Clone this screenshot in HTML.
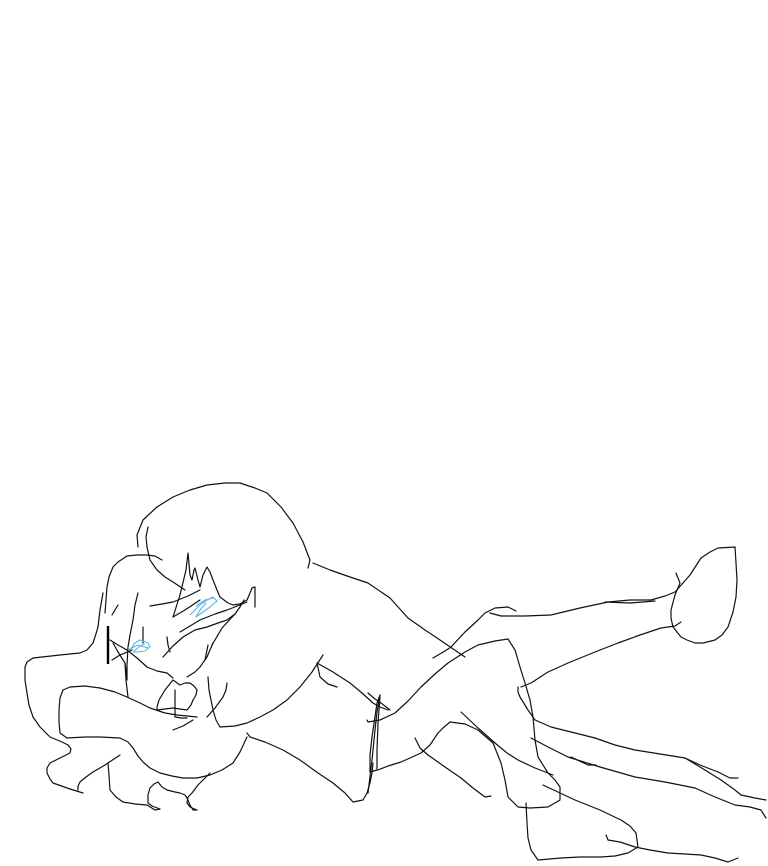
<!DOCTYPE html>
<html><head><meta charset="utf-8"><style>html,body{margin:0;padding:0;background:#fff}svg{display:block}</style></head><body>
<svg width="768" height="866" viewBox="0 0 768 866" xmlns="http://www.w3.org/2000/svg">
<g fill="none" stroke="#111" stroke-width="1.2" stroke-linejoin="round" stroke-linecap="round">
<polyline points="138,547 137,535 143,520 157,507 173,497 190,490 207,485 225,483 240,483 255,488 267,493 281,507 293,523 303,542 310,560 308,568"/>
<polyline points="313,563 330,570 350,577 368,583 390,598 408,618 425,630 440,640 465,657"/>
<polyline points="148,527 146,537 147,547 150,560 157,570 165,577 173,582 185,590"/>
<polyline points="162,560 155,556 147,555 137,555 127,556 118,562 113,567 109,577 107,587 106,600 105,613"/>
<polyline points="103,593 100,610 98,627 95,637 93,643 87,650 80,653 60,655 33,658 27,662 25,667 25,680 27,693 29,705 33,717 40,727 50,737 62,742 68,745 71,749 70,753 60,758 50,763 47,768 47,773 50,779 53,783 70,789 83,793"/>
<polyline points="78,790 78,786 80,782 86,777 93,772 105,765 120,755"/>
<polyline points="108,763 109,775 110,790 116,797 123,802 135,804 147,805 155,810 160,809"/>
<polyline points="160,809 152,806 148,803 148,795 150,788 154,784 158,782 162,787 167,790 175,792 180,793 185,795 187,798 190,805 193,810 197,810 190,807 187,803 188,797 192,793 198,785 203,780 210,773"/>
<polyline points="70,687 63,690 60,698 59,710 59,722 60,733 67,738 85,737 100,737 120,738 128,742 133,748 138,756 143,762 150,768 160,773 172,776 183,778 197,778 210,775 222,770 233,763 240,752 247,737"/>
<polyline points="70,687 85,686 100,688 115,692 127,697 140,703 150,708 165,713 177,715 197,717"/>
<polyline points="208,677 209,690 213,710 216,720 220,727 235,726 247,723 260,717 273,710 287,700 300,687 312,672 323,655"/>
<polyline points="247,733 250,737 265,742 283,750 300,760 318,773 333,783 345,793 353,802 363,800 367,793 370,783 372,773 373,763"/>
<polyline points="317,663 320,677 328,684 337,687"/>
<polyline points="317,663 333,672 350,683 362,693 373,703 380,707 388,710"/>
<polyline points="380,697 378,723 377,750 377,770 370,772 370,755 372,737 377,703 380,695"/>
<polyline points="367,720 368,722 380,720 395,713 408,701 421,687 435,674 448,663 465,652 478,645 495,641 508,639"/>
<polyline points="508,639 515,650 520,667 525,683 530,700 533,717 535,740 538,757 548,773 555,780 560,787 560,800 548,807 530,808 518,807 508,797 505,780 501,763 493,743 478,730 465,724 450,722 443,728 438,733 430,745 421,753 410,758 401,762 388,766 378,770"/>
<polyline points="433,658 445,651 451,647 465,632 478,620 485,613 495,608 508,607 516,611"/>
<polyline points="490,613 501,616 525,616 551,615 580,608 608,602 630,600 651,600 665,596 675,592 690,575 701,558 710,552 718,548 735,547 736,563 737,580 736,597 733,612 728,627 722,635 715,640 703,643 695,643 687,640 681,637 673,627 671,618 671,610 675,595 680,583 676,573"/>
<polyline points="605,602 630,603 655,601"/>
<polyline points="521,687 531,683 548,672 568,663 595,652 618,643 640,635 661,628 675,626 681,622"/>
<polyline points="518,687 518,692 520,697 528,710 535,720 551,727 575,733 595,738 615,745 635,750 660,754 685,758 700,765 718,772 730,778 738,778"/>
<polyline points="685,758 705,770 721,780 735,790 741,795 755,798 766,800"/>
<polyline points="531,738 550,748 568,757 600,767 635,777 665,782 695,788 715,797 735,805 750,807 761,810 766,818"/>
<polyline points="571,757 588,765 596,765"/>
<polyline points="415,738 420,748 428,755 445,767 461,778 473,788 485,797 491,796"/>
<polyline points="461,712 478,728 495,743 507,753 518,760 535,768 553,775"/>
<polyline points="543,785 560,793 575,800 600,810 621,820 630,826 636,833 638,847 628,853 615,856 601,857 580,857 561,858 538,860 531,850 528,838 527,823 526,803"/>
<polyline points="606,835 608,840 620,842 635,847 650,850 668,853 685,854 701,855 715,858 728,862 738,858"/>
<polyline points="368,693 375,699 381,703 390,710"/>
<polyline points="380,695 377,712 375,730 372,760 368,793"/>
<polyline points="150,606 162,604 173,602 188,596 200,590"/>
<polyline points="173,617 180,595 186,570 188,553 190,575 192,580 194,570 195,568 198,580 200,587 203,575 207,567 210,572 213,580 217,590 220,597 228,603 233,605 240,604 247,600 250,593 252,588 255,587 255,597 255,607"/>
<polyline points="173,617 185,610 200,600"/>
<polyline points="138,593 135,605 133,620 130,635 128,647 127,665 127,680"/>
<polyline points="180,632 190,626 200,620 215,614 227,610 240,605 247,602"/>
<polyline points="163,657 173,646 183,637 195,630 207,627 218,623 227,620 235,614 240,607 244,600"/>
<polyline points="187,677 195,672 200,667 207,657 213,643"/>
<polyline points="173,680 165,690 159,700 157,707 157,710 165,709 173,708 180,709 187,710 191,705 193,700 196,695 197,690 194,686 190,683 185,683 180,685 173,680"/>
<polyline points="175,690 175,703 175,717 181,718 187,718"/>
<polyline points="193,720 183,726 173,730"/>
<polyline points="207,717 215,708 223,697 226,690 227,683"/>
<polyline points="110,640 118,645 127,650 137,658 147,667 157,671 167,673 173,678"/>
<polyline points="143,643 143,635 143,627"/>
<polyline points="113,643 118,652 125,663 127,677"/>
<polyline points="125,663 126,680 128,697"/>
<polyline points="167,637 168,645 170,652"/>
<polyline points="112,660 120,655 132,650"/>
<polyline points="118,605 112,615"/>
<polyline points="208,645 205,660"/>
<polyline points="235,614 222,628 212,645"/>
</g>
<polyline fill="none" stroke="#000" stroke-width="2.4" points="108,626 108,664"/>
<g fill="none" stroke="#5ab4e6" stroke-width="1.1" stroke-linejoin="round">
<polyline points="190,615 200,605 207,600 213,597 217,601 210,607 203,612 196,617 200,610 206,603"/>
<polyline points="196,606 205,600 213,598"/>
<polyline points="130,650 135,643 140,640 148,643 150,647 145,651 138,652 133,652 140,646 145,644"/>
<polyline points="128,650 138,645 148,648"/>
</g>
</svg>
</body></html>
